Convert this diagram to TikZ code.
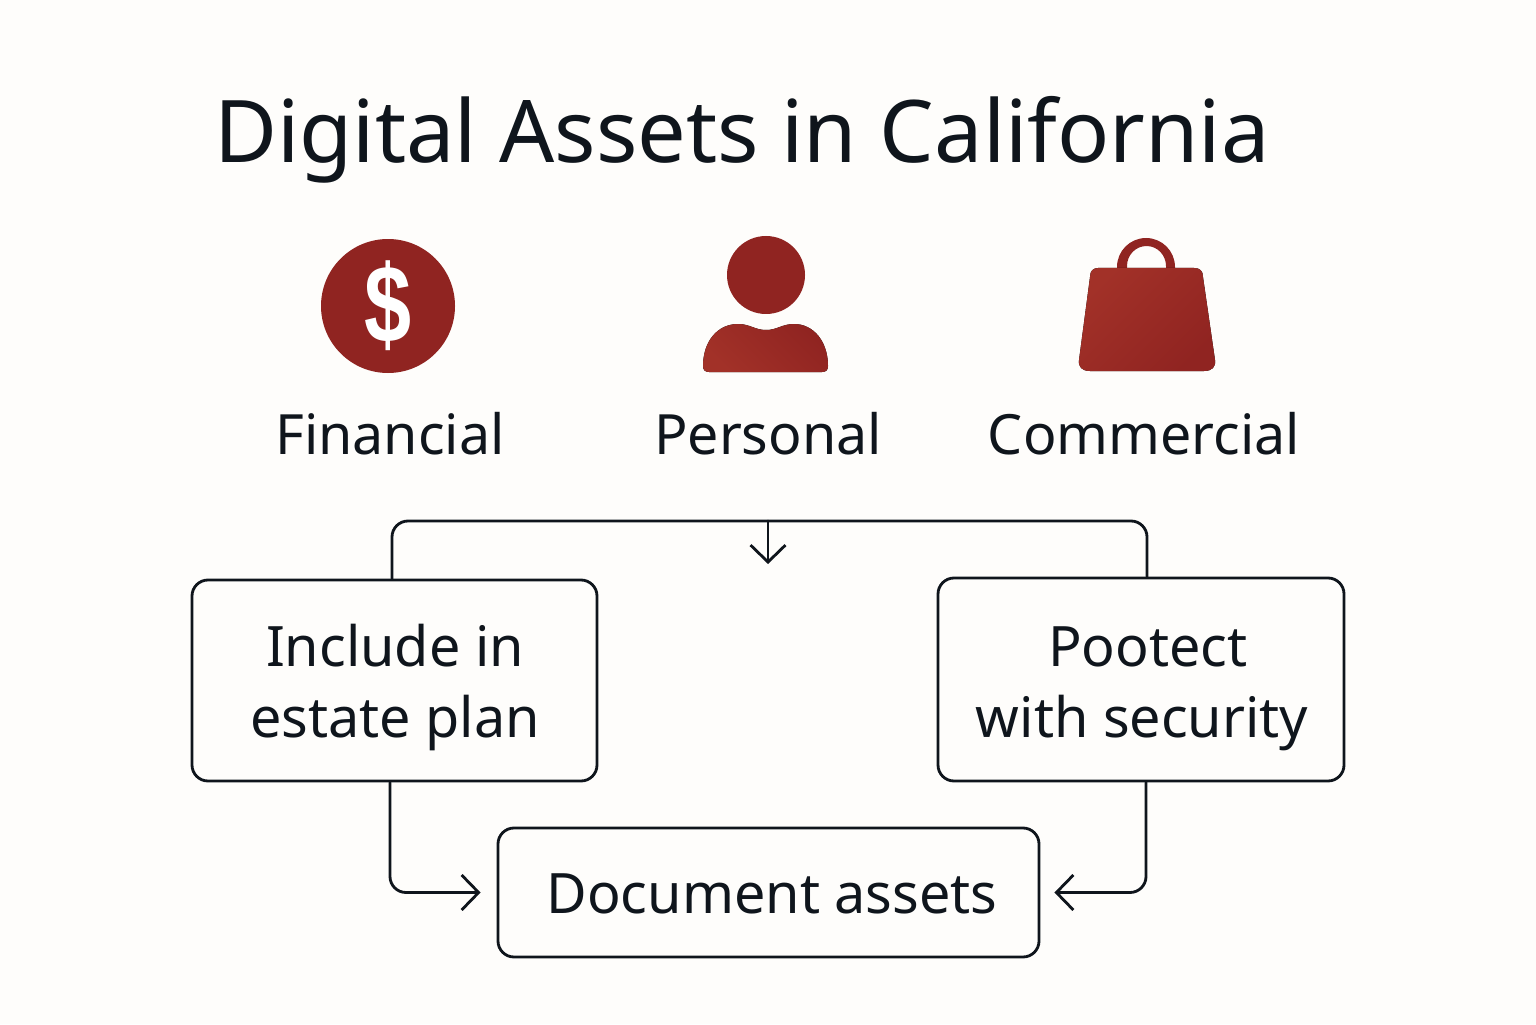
\documentclass[tikz,border=0pt]{standalone}
\usepackage{fontspec}
\setmainfont{Noto Sans}
\newfontfamily\dollarfont{Liberation Sans}
\usetikzlibrary{arrows.meta}

\definecolor{paper}{HTML}{FEFDFB}
\definecolor{ink}{HTML}{0F151C}
\definecolor{rust}{HTML}{902421}
\definecolor{rustlight}{HTML}{A23128}

\tikzset{>={Straight Barb[length=0.17cm,width=0.35cm]}}

\begin{document}
\begin{tikzpicture}
	\tikzstyle{titletext} = [text=ink, anchor=base, font=\fontsize{24.6}{29}\selectfont]
	\tikzstyle{kindtext} = [text=ink, anchor=base, font=\fontsize{15.8}{19}\selectfont]
	\tikzstyle{stepbox} = [draw=ink, rounded corners=0.16cm, line width=0.8pt]
	\tikzstyle{steptext} = [text=ink, align=center, font=\fontsize{15.85}{20.2}\selectfont]
	\tikzstyle{link} = [draw=ink, rounded corners=0.16cm, line width=0.8pt, line cap=round]
	\tikzstyle{coin} = [circle, fill=rust, text=white, inner sep=0pt, minimum size=1.34cm, font=\dollarfont\fontsize{28}{32}\bfseries\selectfont]
	\tikzstyle{head} = [circle, fill=rust, inner sep=0pt, minimum size=0.78cm]

	\fill[paper] (0,0) rectangle (15.36,10.24);
	\useasboundingbox (0,0) rectangle (15.36,10.24);

%----------title------------------------------
	\node[titletext] (title) at (7.42,8.61) {Digital Assets in California};

%----------icons------------------------------
	\node[coin] (fin) at (3.88,7.18) {\scalebox{0.86}[1.12]{\$}};

	\node[head] (per) at (7.66,7.49) {};
	\fill[left color=rustlight, right color=rust, shading angle=135]
		(7.09,6.52) .. controls (7.05,6.52) and (7.03,6.54) .. (7.03,6.58)
		.. controls (7.03,6.82) and (7.17,7.00) .. (7.38,7.00)
		.. controls (7.50,7.00) and (7.55,6.94) .. (7.66,6.94)
		.. controls (7.77,6.94) and (7.82,7.00) .. (7.94,7.00)
		.. controls (8.14,7.00) and (8.28,6.82) .. (8.28,6.58)
		.. controls (8.28,6.54) and (8.26,6.52) .. (8.22,6.52) -- cycle;

	\fill[rust, even odd rule]
		(11.17,7.50) -- (11.17,7.57) arc[start angle=180, end angle=0, x radius=0.29, y radius=0.29] -- (11.75,7.50) -- cycle
		(11.27,7.50) -- (11.27,7.58) arc[start angle=180, end angle=0, x radius=0.195, y radius=0.20] -- (11.66,7.50) -- cycle;
	\fill[left color=rustlight, right color=rust, shading angle=45]
		(10.98,7.56) -- (11.94,7.56)
		.. controls (12.00,7.56) and (12.03,7.53) .. (12.03,7.47)
		-- (12.15,6.64)
		.. controls (12.16,6.57) and (12.12,6.53) .. (12.04,6.53)
		-- (10.90,6.53)
		.. controls (10.82,6.53) and (10.78,6.57) .. (10.79,6.64)
		-- (10.90,7.47)
		.. controls (10.90,7.53) and (10.93,7.56) .. (10.98,7.56) -- cycle;

	\node[kindtext] (fintext) at (3.90,5.70) {Financial};
	\node[kindtext] (pertext) at (7.68,5.70) {Personal};
	\node[kindtext] (comtext) at (11.44,5.70) {Commercial};

%----------boxes------------------------------
	\node[stepbox, minimum width=4.05cm, minimum height=2.01cm] (inc) at (3.945,3.435) {};
	\node[stepbox, minimum width=4.06cm, minimum height=2.03cm] (pro) at (11.41,3.445) {};
	\node[stepbox, minimum width=5.41cm, minimum height=1.29cm] (doc) at (7.685,1.315) {};

	\node[steptext] (inctext) at (3.95,3.36) {Include in\\estate plan};
	\node[steptext] (protext) at (11.42,3.35) {\hspace*{0.12cm}Pootect\\with security};
	\node[steptext] (doctext) at (7.72,1.30) {Document assets};

%----------links------------------------------
	\coordinate (bus) at (7.68,5.03);
	\coordinate (drop) at (7.68,4.60);

	\draw[link] ([xshift=-0.025cm]inc.north) |- (bus) -| ([xshift=0.06cm]pro.north);
	\draw[link, ->] (bus) -- (drop);
	\draw[link, ->, shorten >=0.16cm] ([xshift=-0.045cm]inc.south) |- (doc.west);
	\draw[link, ->, shorten >=0.14cm] ([xshift=0.05cm]pro.south) |- (doc.east);

\end{tikzpicture}
\end{document}
